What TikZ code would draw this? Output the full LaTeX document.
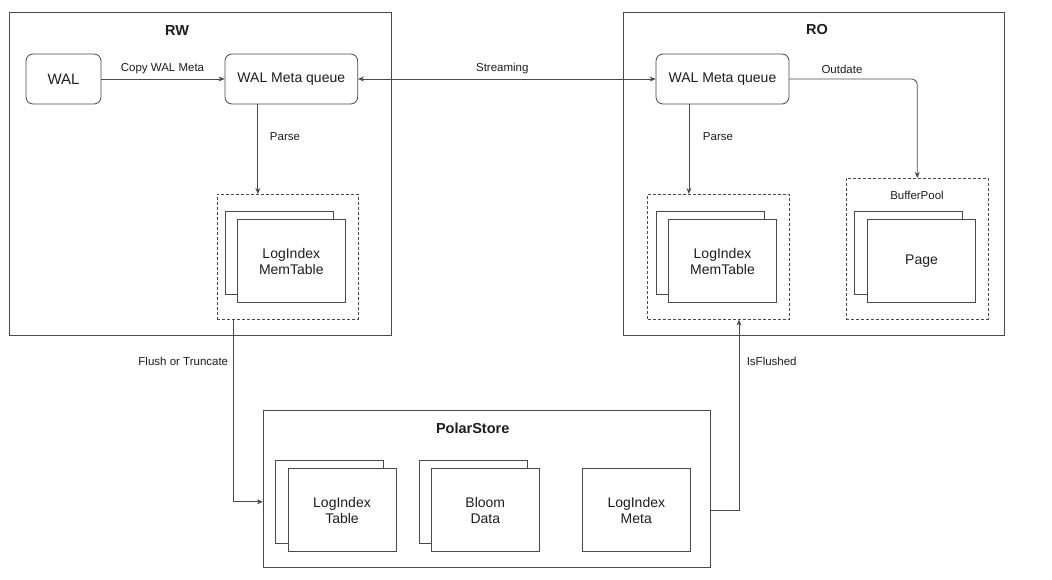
\documentclass[tikz,border=0pt]{standalone}
\usepackage{fontspec}
\setmainfont{Liberation Sans}
\usetikzlibrary{arrows.meta}
\definecolor{linec}{HTML}{4A4A4A}
\definecolor{txtc}{HTML}{1E1E1E}
\begin{document}
\begin{tikzpicture}[x=1pt,y=-1pt,
  box/.style={draw=linec, fill=white, line width=0.8pt, inner sep=0pt, text=txtc, align=center,
    font=\fontsize{14}{16}\selectfont},
  container/.style={draw=linec, line width=0.8pt, inner sep=0pt},
  rbox/.style={box, rounded corners=7pt, minimum height=50pt},
  dbox/.style={draw=linec, line width=0.7pt, dash pattern=on 3pt off 2pt, inner sep=0pt},
  pagebox/.style={box, minimum width=108pt, minimum height=83pt},
  titletext/.style={text=txtc, inner sep=0pt, font=\fontsize{14.5}{17}\selectfont\bfseries},
  lbl/.style={text=txtc, inner sep=0pt, font=\fontsize{11.5}{13}\selectfont},
  arr/.style={draw=linec, line width=0.8pt, -{Stealth[length=6pt,width=5pt]}},
  darr/.style={draw=linec, line width=0.8pt, {Stealth[length=6pt,width=5pt]}-{Stealth[length=6pt,width=5pt]}}
]
\useasboundingbox[fill=white] (0,0) rectangle (1052,580);

% containers
\node[container, minimum width=381.5pt, minimum height=323pt] (rw) at (200.3,174.2) {};
\node[titletext] (rwtitle) at (177,31) {RW};
\node[container, minimum width=381.3pt, minimum height=323pt] (ro) at (813.7,174.2) {};
\node[titletext] (rotitle) at (817,30) {RO};
\node[container, minimum width=447pt, minimum height=157pt] (ps) at (486.8,489.2) {};
\node[titletext] (pstitle) at (472.7,428) {PolarStore};

% RW contents
\node[rbox, minimum width=75pt, font=\fontsize{15}{17}\selectfont] (wal) at (63.5,79) {WAL};
\node[rbox, minimum width=132.7pt] (rwq) at (291.3,79) {WAL Meta queue};
\node[dbox, minimum width=141pt, minimum height=125pt] (rwdash) at (287.5,256.8) {};
\node[pagebox] (rwback) at (279,253) {};
\node[pagebox] (rwfront) at (291.3,261.2) {LogIndex\\MemTable};

% RO contents
\node[rbox, minimum width=133pt] (roq) at (722.5,79) {WAL Meta queue};
\node[dbox, minimum width=141.6pt, minimum height=125pt] (rodash) at (718.5,256.8) {};
\node[pagebox] (roback) at (710,253) {};
\node[pagebox] (rofront) at (722.5,261.2) {LogIndex\\MemTable};
\node[dbox, minimum width=142pt, minimum height=141pt] (bp) at (917.3,248.8) {};
\node[lbl] (bplabel) at (917,195.5) {BufferPool};
\node[pagebox] (bpback) at (908.7,253) {};
\node[pagebox] (bpfront) at (921.5,261.2) {Page};

% PolarStore contents
\node[pagebox] (ltback) at (329.3,501.8) {};
\node[pagebox] (ltfront) at (342,510.2) {LogIndex\\Table};
\node[pagebox] (bdback) at (473,501.8) {};
\node[pagebox] (bdfront) at (485.3,510.2) {Bloom\\Data};
\node[pagebox] (lm) at (636.3,510.2) {LogIndex\\Meta};

% connectors
\draw[arr] (wal) -- (rwq);
\node[lbl] (l1) at (162.5,69) {Copy WAL Meta};

\draw[darr] (rwq.east) -- (roq.west);
\node[lbl] (l2) at (502.3,69) {Streaming};

\draw[arr, rounded corners=6pt] (roq.east) -| (bp.north);
\node[lbl] (l3) at (842,69) {Outdate};

\coordinate (rwp) at ([xshift=33.3pt]rwq.south west);
\draw[arr] (rwp) -- (rwp |- rwdash.north);
\node[lbl] (l4) at (285,137) {Parse};

\coordinate (rop) at ([xshift=33.3pt]roq.south west);
\draw[arr] (rop) -- (rop |- rodash.north);
\node[lbl] (l5) at (718,137) {Parse};

\coordinate (fl) at ([xshift=16.7pt]rwdash.south west);
\draw[arr] (fl) |- (ps.west |- ltback.center);
\node[lbl] (l6) at (183.3,361.7) {Flush or Truncate};

\coordinate (isf) at ([xshift=20.5pt]rodash.south);
\draw[arr] (ps.east |- lm.center) -| (isf);
\node[lbl] (l7) at (771.7,361.7) {IsFlushed};
\end{tikzpicture}
\end{document}
